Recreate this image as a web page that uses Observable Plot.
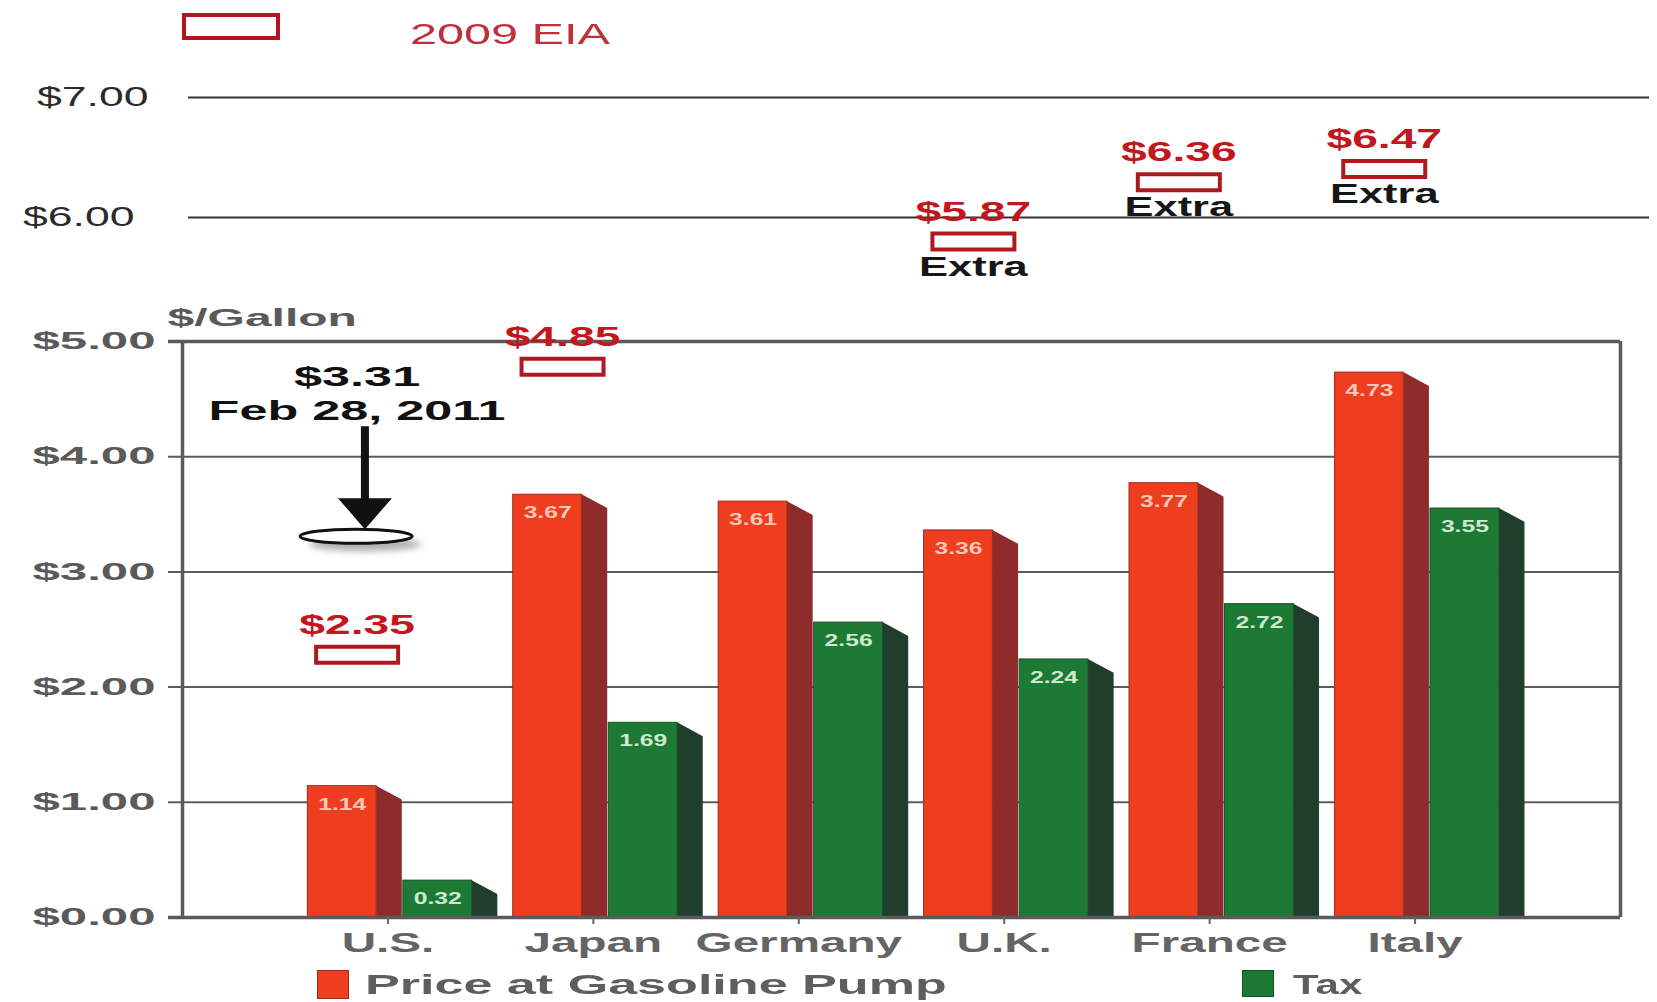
<!DOCTYPE html>
<html><head><meta charset="utf-8">
<script src="https://cdn.jsdelivr.net/npm/d3@7"></script>
<script src="https://cdn.jsdelivr.net/npm/@observablehq/plot@0.6"></script>
<style>
html,body{margin:0;padding:0;background:#fff;overflow:hidden;}
#wrap{position:relative;width:1657px;height:1002px;font-family:"Liberation Sans",Arial,sans-serif;background:#fff;}
#chart{position:absolute;left:0;top:60px;}
.abs{position:absolute;white-space:nowrap;transform-origin:0 50%;line-height:1;}
.shadow{filter:blur(3px);}
</style></head><body>
<div id="wrap"><div id="chart"></div></div>
<script>
// ---- data ----
const countries = ["U.S.", "Japan", "Germany", "U.K.", "France", "Italy"];
const pumpPrice = [1.14, 3.67, 3.61, 3.36, 3.77, 4.73];
const taxes = [0.32, 1.69, 2.56, 2.24, 2.72, 3.55];
const seriesNames = ["Price at Gasoline Pump", "Tax"];
const eiaLabel = "2009 EIA";
const eiaCountries = ["U.S.", "Japan", "U.K.", "France", "Italy"];
const eiaPrices = [2.35, 4.85, 5.87, 6.36, 6.47];
const eiaExtra = [false, false, true, true, true];
const extraLabel = "Extra";
const currentCountry = "U.S.";
const currentPrice = 3.31;
const currentDate = "Feb 28, 2011";
const yTicksLower = [0, 1, 2, 3, 4, 5];
const yTicksUpper = [6, 7];
const yAxisLabel = "$/Gallon";

// ---- derived ----
const RED = "#ef3d1f", RED_SIDE = "#8e2c2c", GREEN = "#1c7a34", GREEN_SIDE = "#213d2b";
const fmt = v => "$" + v.toFixed(2);
const pos = c => countries.indexOf(c) + 1;
const bars = countries.flatMap((c, i) => [
  {c, s: 0, v: pumpPrice[i], x1: i + 1 - 0.39, x2: i + 1 - 0.055},
  {c, s: 1, v: taxes[i], x1: i + 1 + 0.075, x2: i + 1 + 0.41}
]);
const sides = bars.flatMap((b, j) => [
  {id: j, s: b.s, x: b.x2, y1: 0, y2: b.v},
  {id: j, s: b.s, x: b.x2 + 0.125, y1: 0, y2: b.v - 0.12}
]);
const eia = eiaCountries.map((c, i) => ({c, v: eiaPrices[i], x: pos(c) - 0.15, extra: eiaExtra[i]}));
const cur = [{x: pos(currentCountry), v: currentPrice, date: currentDate}];
const frameX = [0, countries.length + 1];
const frameY = [yTicksLower[0], yTicksLower[yTicksLower.length - 1]];

const boxSymbol = {draw(ctx) { ctx.moveTo(-41, 0); ctx.lineTo(41, 0); ctx.lineTo(41, 16); ctx.lineTo(-41, 16); ctx.closePath(); }};
const ellipseSymbol = {draw(ctx) {
  const rx = 56, ry = 7, k = 0.5523;
  ctx.moveTo(-rx, 0);
  ctx.bezierCurveTo(-rx, -ry * k, -rx * k, -ry, 0, -ry);
  ctx.bezierCurveTo(rx * k, -ry, rx, -ry * k, rx, 0);
  ctx.bezierCurveTo(rx, ry * k, rx * k, ry, 0, ry);
  ctx.bezierCurveTo(-rx * k, ry, -rx, ry * k, -rx, 0);
  ctx.closePath();
}};
const arrowSymbol = {draw(ctx) {
  ctx.moveTo(-4, -110); ctx.lineTo(4, -110); ctx.lineTo(4, -38); ctx.lineTo(27, -38);
  ctx.lineTo(0, -7); ctx.lineTo(-27, -38); ctx.lineTo(-4, -38); ctx.closePath();
}};

const plot = Plot.plot({
  width: 1657, height: 900,
  marginLeft: 182, marginRight: 37, marginTop: 0, marginBottom: 43,
  style: {fontFamily: '"Liberation Sans", Arial, sans-serif', background: "transparent", overflow: "visible"},
  x: {type: "linear", domain: frameX, range: [182, 1620], label: null},
  y: {type: "linear", domain: [0, 5, 6, 7], range: [857, 281, 157, 37], label: null},
  marks: [
    Plot.ruleY(yTicksLower.slice(1, -1), {stroke: "#5c5c5c", strokeWidth: 2, insetLeft: -14}),
    Plot.ruleY(yTicksUpper, {stroke: "#333", strokeWidth: 2, insetLeft: 6, insetRight: -29}),
    Plot.areaY(sides.filter(d => d.s === 0), {x: "x", y1: "y1", y2: "y2", z: "id", fill: RED_SIDE}),
    Plot.areaY(sides.filter(d => d.s === 1), {x: "x", y1: "y1", y2: "y2", z: "id", fill: GREEN_SIDE}),
    Plot.rect(bars.filter(d => d.s === 0), {x1: "x1", x2: "x2", y1: 0, y2: "v", fill: RED, stroke: "#9a2a1c", strokeWidth: 1}),
    Plot.rect(bars.filter(d => d.s === 1), {x1: "x1", x2: "x2", y1: 0, y2: "v", fill: GREEN, stroke: "#17502a", strokeWidth: 1}),
    Plot.ruleY(frameY, {stroke: "#5a5a5a", strokeWidth: 3.5, insetLeft: -14}),
    Plot.ruleX(frameX, {y1: frameY[0], y2: frameY[1], stroke: "#5a5a5a", strokeWidth: 3.5}),
    Plot.text(bars.filter(d => d.s === 0), {x: d => (d.x1 + d.x2) / 2, y: "v", text: d => d.v.toFixed(2), dy: 18, fontSize: 17, fontWeight: "bold", fill: "#f8c8b6", className: "val"}),
    Plot.text(bars.filter(d => d.s === 1), {x: d => (d.x1 + d.x2) / 2, y: "v", text: d => d.v.toFixed(2), dy: 18, fontSize: 17, fontWeight: "bold", fill: "#cfe8cf", className: "val"}),
    Plot.axisX(countries.map((c, i) => i + 1), {tickFormat: i => countries[i - 1], tickSize: 7, tickPadding: 8, fontSize: 28, fontWeight: "bold", color: "#646464", strokeWidth: 2, className: "xlab", label: null}),
    Plot.axisY(yTicksLower, {tickFormat: fmt, tickSize: 0, tickPadding: 27, fontSize: 24, fontWeight: "bold", color: "#5a5a5a", className: "ylo", label: null}),
    Plot.axisY(yTicksUpper.slice(1), {tickFormat: fmt, tickSize: 0, tickPadding: 34, fontSize: 27, color: "#2b2b2b", className: "yup", label: null}),
    Plot.axisY(yTicksUpper.slice(0, 1), {tickFormat: fmt, tickSize: 0, tickPadding: 48, fontSize: 27, color: "#2b2b2b", className: "yup", label: null}),
    Plot.text([{t: yAxisLabel, x: frameX[0], y: frameY[1]}], {x: "x", y: "y", text: "t", dx: -15, dy: -23, textAnchor: "start", fontSize: 24, fontWeight: "bold", fill: "#5a5a5a", className: "gal"}),
    Plot.dot(eia, {x: "x", y: "v", symbol: boxSymbol, r: 5, stroke: "#ac1a20", strokeWidth: 4, fill: "white"}),
    Plot.text(eia, {x: "x", y: "v", text: d => fmt(d.v), dy: -22, fontSize: 28, fontWeight: "bold", fill: "#c3161d", className: "redlab"}),
    Plot.text(eia.filter(d => d.extra), {x: "x", y: "v", text: () => extraLabel, dy: 33, fontSize: 28, fontWeight: "bold", fill: "#161616", className: "extra"}),
    Plot.dot(cur, {x: d => d.x - 0.155, y: "v", symbol: ellipseSymbol, r: 5, fill: "#b0b0b0", dx: 9, dy: 8, className: "shadow"}),
    Plot.dot(cur, {x: d => d.x - 0.155, y: "v", symbol: ellipseSymbol, r: 5, fill: "white", stroke: "#111", strokeWidth: 3}),
    Plot.dot(cur, {x: d => d.x - 0.112, y: "v", symbol: arrowSymbol, r: 5, fill: "#111"}),
    Plot.text(cur, {x: d => d.x - 0.15, y: "v", text: d => fmt(d.v), dy: -159, fontSize: 28, fontWeight: "bold", fill: "#111", className: "blk"}),
    Plot.text(cur, {x: d => d.x - 0.15, y: "v", text: "date", dy: -125, fontSize: 28, fontWeight: "bold", fill: "#111", className: "blk"})
  ]
});
document.getElementById("chart").appendChild(plot);

function stretch(sel, k) {
  plot.querySelectorAll(sel).forEach(t => {
    const w = t.getComputedTextLength();
    if (w > 0) { t.setAttribute("textLength", (w * k).toFixed(1)); t.setAttribute("lengthAdjust", "spacingAndGlyphs"); }
  });
}
stretch(".xlab text", 1.7);
stretch(".ylo text", 2.05);
stretch(".yup text", 1.65);
stretch(".gal text", 2.0);
stretch(".val text", 1.45);
stretch(".redlab text", 1.65);
stretch(".extra text", 1.55);
stretch(".blk text", 1.8);

// ---- HTML legends (top and bottom) ----
const wrap = document.getElementById("wrap");
function addText(txt, left, cy, size, weight, color, k) {
  const el = document.createElement("div");
  el.className = "abs";
  el.textContent = txt;
  Object.assign(el.style, {left: left + "px", top: (cy - size / 2) + "px", fontSize: size + "px", fontWeight: weight, color});
  wrap.appendChild(el);
  el.style.transform = `scaleX(${k})`;
  return el;
}
function addBox(left, top, w, h, style) {
  const el = document.createElement("div");
  el.className = "abs";
  Object.assign(el.style, {left: left + "px", top: top + "px", width: w + "px", height: h + "px", boxSizing: "border-box"}, style);
  wrap.appendChild(el);
}
addBox(182, 13, 98, 27, {border: "4px solid #b3141d"});
addText(eiaLabel, 410, 34, 30, "normal", "#c0303a", 1.62);
addBox(317, 970, 32, 29, {background: RED, border: "1px solid #9a2a1c"});
addText(seriesNames[0], 365, 985, 28, "bold", "#5e5e5e", 1.86);
addBox(1242, 970, 32, 27, {background: GREEN, border: "1px solid #17502a"});
addText(seriesNames[1], 1293, 985, 28, "bold", "#5e5e5e", 1.5);
</script>
</body></html>
